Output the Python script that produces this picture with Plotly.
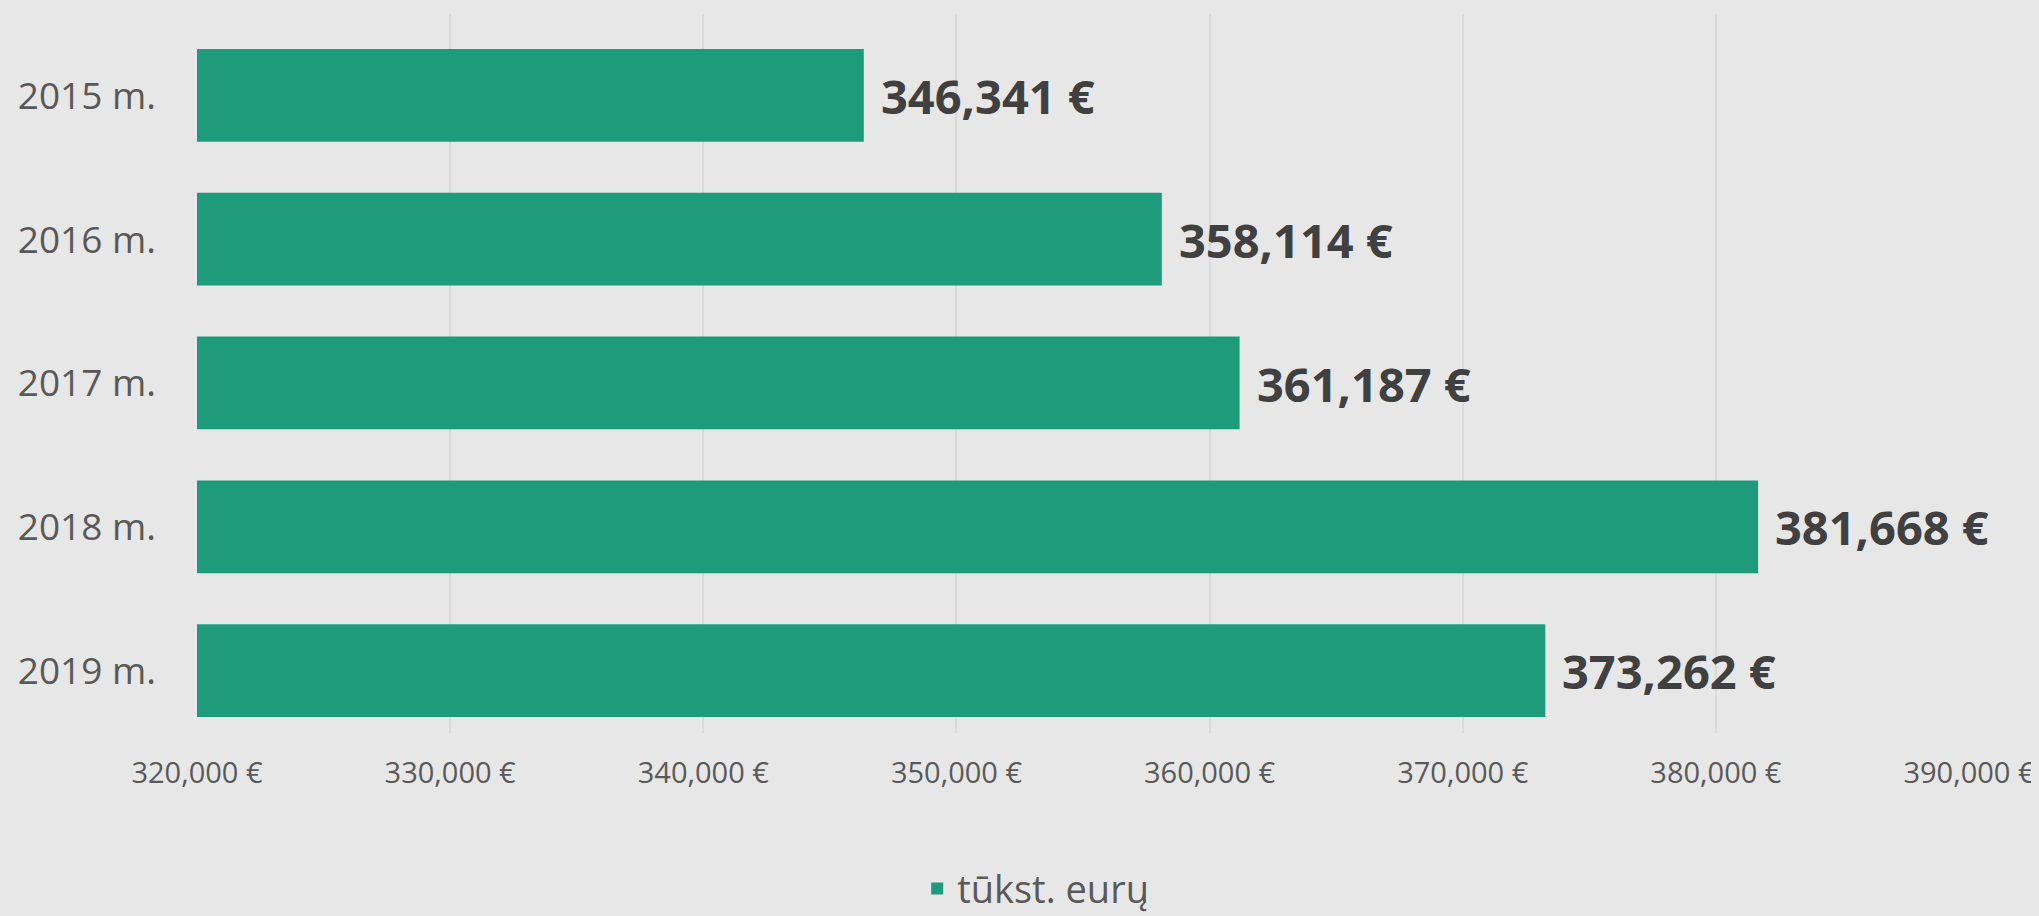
import plotly.graph_objects as go

categories = ["2015 m.", "2016 m.", "2017 m.", "2018 m.", "2019 m."]
values = [346341, 358114, 361187, 381668, 373262]
series_name = "tūkst. eurų"
tick_values = [320000, 330000, 340000, 350000, 360000, 370000, 380000, 390000]
tick_labels = [f"{v:,} €" for v in tick_values]
value_labels = [f"{v:,} €" for v in values]

# page body has an 8px margin; figure sized so that it ends at the window edge
W, H = 2031, 908
BAR = "#1E9B7A"
BG = "#E7E7E7"
BAR_W = 0.645
BAR_OFF = -0.2565   # bars sit slightly below the band centre, as in the reference
SHIFT_PX = 10

fig = go.Figure()
fig.add_trace(go.Bar(
    y=categories, x=values, orientation="h", name=series_name,
    width=BAR_W, offset=BAR_OFF,
    marker=dict(color=BAR, line=dict(width=0)),
    hoverinfo="skip",
))

for c, v, t in zip(categories, values, value_labels):
    fig.add_annotation(x=v, y=c, text=f"<b>{t}</b>", showarrow=False,
                       xanchor="left", yanchor="middle", xshift=15, yshift=-SHIFT_PX,
                       font=dict(family="Open Sans", size=47, color="#404040"))

fig.update_layout(
    width=W, height=H,
    paper_bgcolor=BG, plot_bgcolor=BG,
    margin=dict(l=189, r=70, t=6, b=183.3, pad=0),
    showlegend=True,
    legend=dict(orientation="h", xref="container", x=0.506, xanchor="center",
                yref="container", y=0.03, yanchor="middle",
                font=dict(family="Open Sans", size=38, color="#595959"),
                bgcolor="rgba(0,0,0,0)"),
    xaxis=dict(range=[320000, 390000], tickvals=tick_values, ticktext=tick_labels,
               showgrid=True, gridcolor="#DADADA", gridwidth=1.5, zeroline=False,
               showline=False, ticks="", ticklabelstandoff=20, tickangle=0,
               automargin=False,
               tickfont=dict(family="Open Sans", size=29, color="#595959")),
    yaxis=dict(autorange="reversed", showgrid=False, zeroline=False, showline=False,
               ticks="", ticklabelstandoff=40, ticklabelshift=-SHIFT_PX, automargin=False,
               tickfont=dict(family="Open Sans", size=37, color="#595959")),
    font=dict(family="Open Sans"),
)

fig.write_html("out.html", config={"displayModeBar": False},
               post_script="document.body.style.background='#E7E7E7';")
